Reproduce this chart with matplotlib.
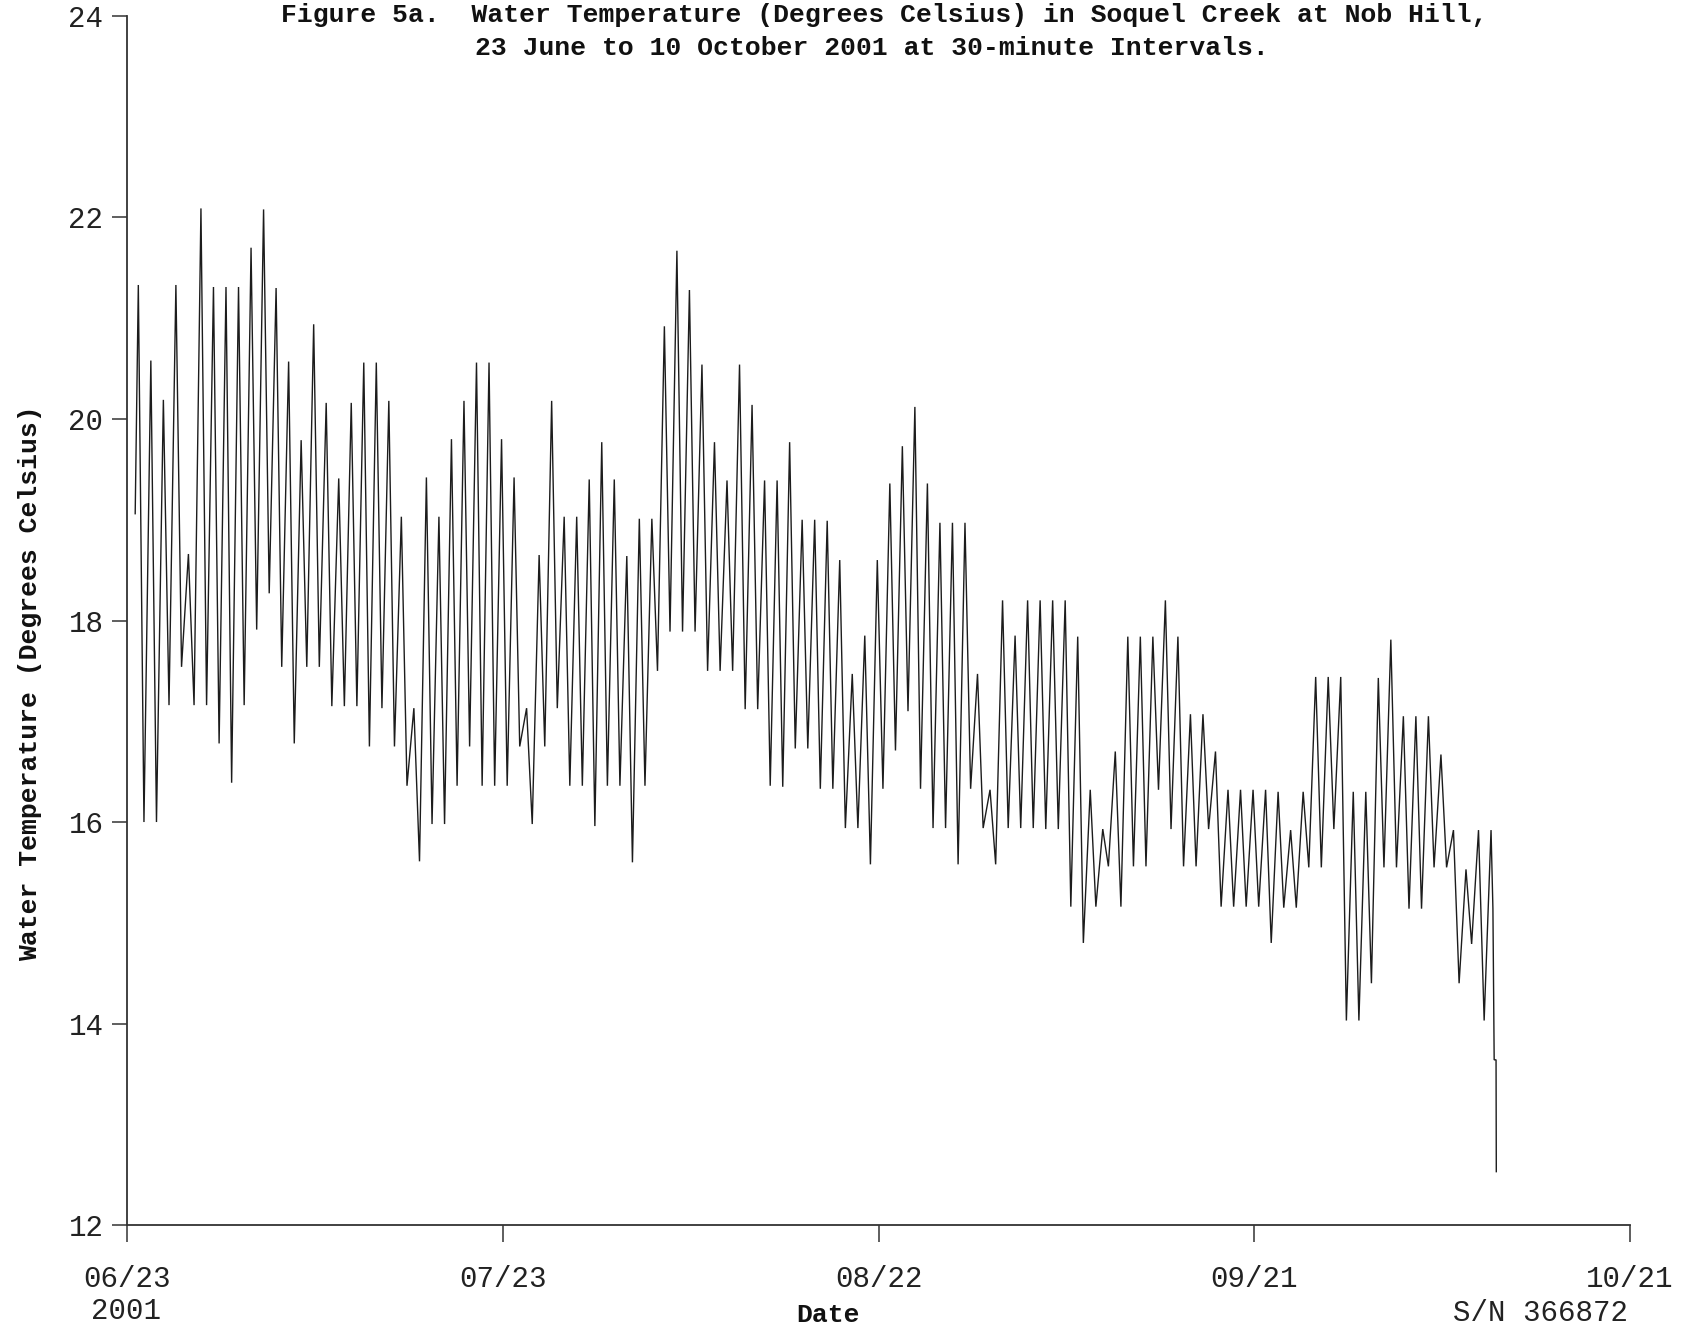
import numpy as np
import matplotlib
matplotlib.use("Agg")
import matplotlib.pyplot as plt

# Soquel Creek at Nob Hill, water temperature (deg C), 30-minute logger record.
# Daily maxima, one per day starting 24 Jun 2001 (day 1 after 06/23).
daily_max = [21.33, 20.58, 20.19, 21.33, 18.66, 22.09, 21.31, 21.31, 21.31, 21.70,
             22.08, 21.30, 20.57, 19.79, 20.94, 20.16, 19.41, 20.16, 20.56, 20.56,
             20.18, 19.03, 17.13, 19.42, 19.03, 19.80, 20.18, 20.56, 20.56, 19.80,
             19.42, 17.13, 18.65, 20.18, 19.03, 19.03, 19.40, 19.77, 19.40, 18.64,
             19.01, 19.01, 20.92, 21.67, 21.28, 20.54, 19.77, 19.39, 20.54, 20.14,
             19.39, 19.39, 19.77, 19.00, 19.00, 18.99, 18.60, 17.47, 17.85, 18.60,
             19.36, 19.73, 20.12, 19.36, 18.97, 18.97, 18.97, 17.47, 16.32, 18.20,
             17.85, 18.20, 18.20, 18.20, 18.20, 17.84, 16.32, 15.93, 16.70, 17.84,
             17.84, 17.84, 18.20, 17.84, 17.07, 17.07, 16.70, 16.32, 16.32, 16.32,
             16.32, 16.30, 15.92, 16.30, 17.44, 17.44, 17.44, 16.30, 16.30, 17.43,
             17.81, 17.05, 17.05, 17.05, 16.67, 15.92, 15.53, 15.92, 15.92]

# Daily minima following each maximum.
daily_min = [16.00, 16.00, 17.16, 17.54, 17.16, 17.16, 16.78, 16.39, 17.16, 17.91,
             18.27, 17.54, 16.78, 17.54, 17.54, 17.15, 17.15, 17.15, 16.75, 17.13,
             16.75, 16.36, 15.61, 15.98, 15.98, 16.36, 16.75, 16.36, 16.36, 16.36,
             16.75, 15.98, 16.75, 17.13, 16.36, 16.36, 15.96, 16.36, 16.36, 15.60,
             16.36, 17.50, 17.89, 17.89, 17.89, 17.50, 17.50, 17.50, 17.12, 17.12,
             16.36, 16.35, 16.73, 16.73, 16.33, 16.33, 15.94, 15.94, 15.58, 16.33,
             16.71, 17.10, 16.33, 15.94, 15.94, 15.58, 16.33, 15.94, 15.58, 15.94,
             15.94, 15.94, 15.93, 15.93, 15.16, 14.80, 15.16, 15.56, 15.16, 15.56,
             15.56, 16.32, 15.93, 15.56, 15.56, 15.93, 15.16, 15.16, 15.16, 15.16,
             14.80, 15.15, 15.15, 15.55, 15.55, 15.93, 14.03, 14.03, 14.40, 15.55,
             15.55, 15.14, 15.14, 15.55, 15.55, 14.40, 14.79, 14.03]

# First reading and the readings after the logger was pulled from the water.
start_day, start_value = 0.65, 19.06
tail_days = [109.05, 109.15, 109.30, 109.32]
tail_values = [15.14, 13.64, 13.64, 12.53]

# Time of day (fraction of a day) of the daily peak and trough.
peak_offset = -0.10
trough_offset = 0.35

tick_days = [0, 30, 60, 90, 120]
tick_labels = ["06/23", "07/23", "08/22", "09/21", "10/21"]
y_ticks = [12, 14, 16, 18, 20, 22, 24]

# Assemble the series: peak of day k, then the trough after it.
t = [start_day]
v = [start_value]
for k, hi in enumerate(daily_max, start=1):
    t.append(k + peak_offset)
    v.append(hi)
    if k <= len(daily_min):
        t.append(k + trough_offset)
        v.append(daily_min[k - 1])
t += tail_days
v += tail_values

mono = "Liberation Mono"
ink = "#1c1c1c"

fig = plt.figure(figsize=(16.85, 13.3), dpi=100)
ax = fig.add_axes([0.0754, 0.0789, 0.892, 0.9091])
ax.plot(t, v, color=ink, lw=1.0, solid_joinstyle="miter")

ax.set_xlim(0, 120)
ax.set_ylim(12, 24)
ax.set_xticks(tick_days)
ax.set_xticklabels(tick_labels)
ax.set_yticks(y_ticks)
ax.set_yticklabels([str(y) for y in y_ticks])

for side in ("top", "right"):
    ax.spines[side].set_visible(False)
for side in ("left", "bottom"):
    ax.spines[side].set_color("#333333")
    ax.spines[side].set_linewidth(1.3)

ax.tick_params(axis="x", direction="out", length=12, width=1.1, color="#333333",
               pad=17, labelsize=21)
ax.tick_params(axis="y", direction="out", length=11, width=1.1, color="#333333",
               pad=6, labelsize=21)
for lab in ax.get_xticklabels() + ax.get_yticklabels():
    lab.set_fontfamily(mono)
    lab.set_color("#222222")

fig.text(0.525, 0.9887,
         "Figure 5a.  Water Temperature (Degrees Celsius) in Soquel Creek at Nob Hill,",
         ha="center", va="center", fontsize=19, fontfamily=mono,
         fontweight="bold", color="#111111")
fig.text(0.5175, 0.9639,
         "23 June to 10 October 2001 at 30-minute Intervals.",
         ha="center", va="center", fontsize=19, fontfamily=mono,
         fontweight="bold", color="#111111")

fig.text(0.0178, 0.4865, "Water Temperature (Degrees Celsius)", rotation=90,
         ha="center", va="center", fontsize=19, fontfamily=mono,
         fontweight="bold", color="#111111")
fig.text(0.4914, 0.0113, "Date", ha="center", va="center", fontsize=19,
         fontfamily=mono, fontweight="bold", color="#111111")
fig.text(0.0748, 0.0143, "2001", ha="center", va="center", fontsize=21,
         fontfamily=mono, color="#222222")
fig.text(0.966, 0.0128, "S/N 366872", ha="right", va="center", fontsize=21,
         fontfamily=mono, color="#222222")

fig.savefig("out.png", dpi=100, facecolor="white")
